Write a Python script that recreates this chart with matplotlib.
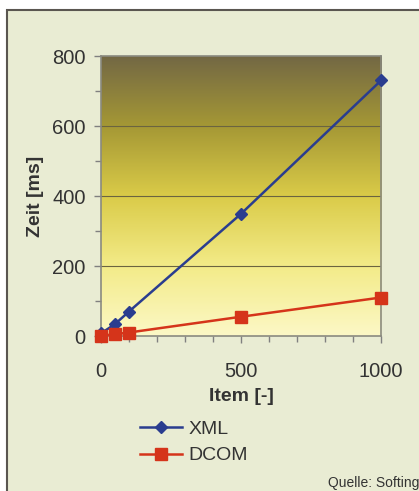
import numpy as np
import matplotlib
matplotlib.use("Agg")
import matplotlib.pyplot as plt
from matplotlib.colors import LinearSegmentedColormap
from matplotlib.patches import Rectangle
from matplotlib.ticker import MultipleLocator

plt.rcParams['font.family'] = ['Liberation Sans', 'DejaVu Sans']

items = [1, 50, 100, 500, 1000]
xml_ms = [8, 34, 70, 349, 730]
dcom_ms = [1, 5, 10, 55, 110]

fig = plt.figure(figsize=(4.19, 4.91), dpi=100)
fig.patch.set_facecolor('white')

# Rahmen mit hellem Hintergrund
bg = Rectangle((7 / 419, -0.01), 1.0, 1 - 10 / 491 + 0.01, transform=fig.transFigure,
               facecolor='#e9ecd3', edgecolor='#5a5650', linewidth=1.5, zorder=-10)
fig.patches.append(bg)

ax = fig.add_axes([101 / 419, 1 - 336 / 491, 280 / 419, 280 / 491])
ax.set_xlim(0, 1000)
ax.set_ylim(0, 800)

# Farbverlauf im Diagrammhintergrund
cmap = LinearSegmentedColormap.from_list(
    'verlauf', [(0.0, '#fcf8c6'), (0.25, '#f3eb88'), (0.5, '#dacb48'),
                (0.75, '#a59835'), (1.0, '#736844')])
grad = np.linspace(0, 1, 256).reshape(-1, 1)
ax.imshow(grad, cmap=cmap, aspect='auto', origin='lower',
          extent=[0, 1000, 0, 800], zorder=0)

for y in [200, 400, 600]:
    ax.axhline(y, color='#6b6440', linewidth=0.8, zorder=1)

ax.plot(items, xml_ms, color='#2a3d8f', marker='D', markersize=6, linewidth=1.8,
        label='XML', zorder=3, clip_on=False)
ax.plot(items, dcom_ms, color='#d5341a', marker='s', markersize=8, linewidth=1.8,
        label='DCOM', zorder=3, clip_on=False)

ax.xaxis.set_major_locator(MultipleLocator(500))
ax.xaxis.set_minor_locator(MultipleLocator(100))
ax.yaxis.set_major_locator(MultipleLocator(200))
ax.yaxis.set_minor_locator(MultipleLocator(100))
ax.tick_params(axis='both', which='major', labelsize=14.5, colors='#808080',
               labelcolor='#333333', length=5, width=1)
ax.tick_params(axis='both', which='minor', colors='#808080', length=4, width=1)
ax.tick_params(axis='x', which='major', pad=14)
ax.tick_params(axis='y', which='major', pad=6)

for s in ax.spines.values():
    s.set_color('#8a8a80')
    s.set_linewidth(1.2)

ax.set_xlabel('Item [-]', fontsize=14, fontweight='bold', color='#333333', labelpad=5)
ax.set_ylabel('Zeit [ms]', fontsize=14, fontweight='bold', color='#333333', labelpad=6)

fig.legend(loc='upper left', bbox_to_anchor=(122 / 419, 1 - 403 / 491), frameon=False,
           fontsize=14, handlelength=2.2, handletextpad=0.3, labelspacing=0.45,
           labelcolor='#333333')

fig.text(1.0, 1 - 483 / 491, 'Quelle: Softing', fontsize=10, color='#333333',
         ha='right', va='center')

fig.savefig('out.png', dpi=100)
